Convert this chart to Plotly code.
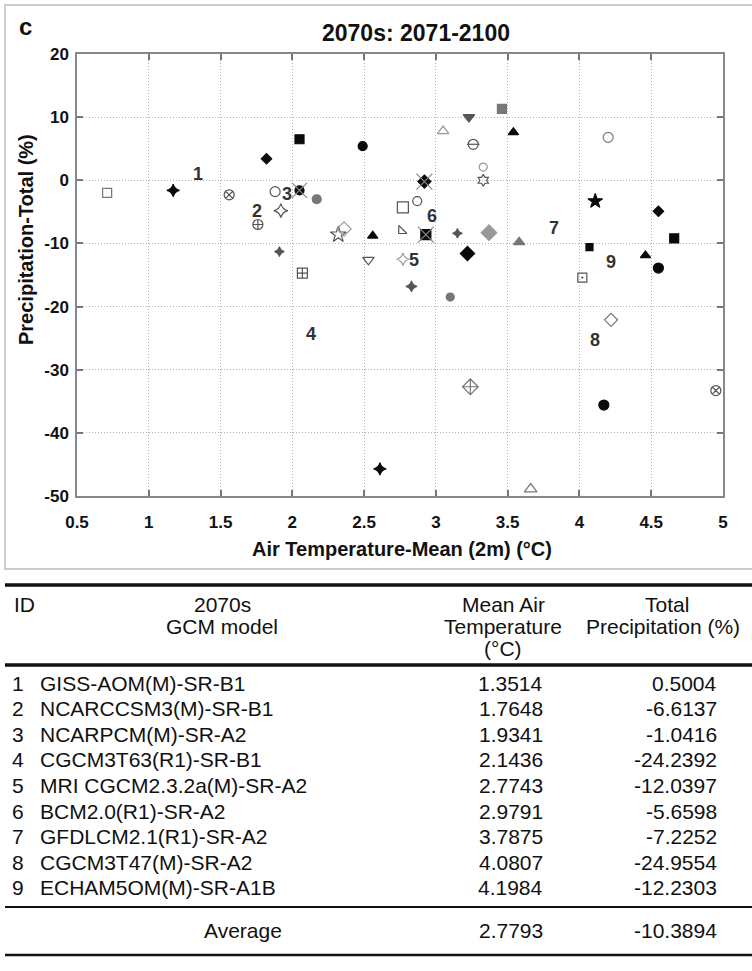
import plotly.graph_objects as go

W, H = 752, 971

# ---------------- data: GCM runs (2070s) ----------------
air_temp = [0.71, 1.17, 1.56, 1.82, 2.05, 2.49, 1.88, 2.05, 2.17, 1.92, 1.76, 2.32, 2.36, 2.56,
            1.91, 2.53, 2.07, 3.46, 3.23, 3.05, 3.54, 3.26, 3.33, 3.33, 2.92, 2.77, 2.87, 2.76,
            2.93, 3.15, 3.37, 3.58, 4.11, 4.20, 4.55, 4.66, 4.07, 4.46, 4.55, 4.02, 2.77, 3.22,
            2.83, 3.10, 4.22, 3.24, 4.17, 4.95, 2.61, 3.66]
precip_total = [-2.0, -1.6, -2.3, 3.4, 6.5, 5.4, -1.8, -1.6, -3.0, -4.8, -7.0, -8.6, -7.7, -8.8,
                -11.3, -12.6, -14.7, 11.3, 10.0, 7.8, 7.6, 5.7, 2.1, 0.0, -0.2, -4.3, -3.3, -8.0,
                -8.6, -8.4, -8.3, -9.8, -3.3, 6.8, -4.9, -9.2, -10.6, -11.9, -13.9, -15.4, -12.5,
                -11.6, -16.8, -18.5, -22.1, -32.7, -35.6, -33.3, -45.7, -48.9]

# ---------------- table data ----------------
ids = ["1", "2", "3", "4", "5", "6", "7", "8", "9"]
models = ["GISS-AOM(M)-SR-B1", "NCARCCSM3(M)-SR-B1", "NCARPCM(M)-SR-A2", "CGCM3T63(R1)-SR-B1",
          "MRI CGCM2.3.2a(M)-SR-A2", "BCM2.0(R1)-SR-A2", "GFDLCM2.1(R1)-SR-A2",
          "CGCM3T47(M)-SR-A2", "ECHAM5OM(M)-SR-A1B"]
mean_temp = [1.3514, 1.7648, 1.9341, 2.1436, 2.7743, 2.9791, 3.7875, 4.0807, 4.1984]
total_precip = [0.5004, -6.6137, -1.0416, -24.2392, -12.0397, -5.6598, -7.2252, -24.9554, -12.2303]
avg_temp = 2.7793
avg_precip = -10.3894

x_ticks = [0.5, 1, 1.5, 2, 2.5, 3, 3.5, 4, 4.5, 5]
y_ticks = [-50, -40, -30, -20, -10, 0, 10, 20]

# ---------------- styles ----------------
K, D, M, L = "#0a0a0a", "#555555", "#777777", "#999999"
symbols = ["square-open", "star-diamond", "circle-x-open", "diamond", "square", "circle",
           "circle-open", "circle", "circle", "star-diamond-open", "circle-cross-open", "star-open",
           "diamond-open", "triangle-up", "star-diamond", "triangle-down-open", "square-cross-open",
           "square", "triangle-down", "triangle-up-open", "triangle-up", "circle-open",
           "circle-open", "hexagram-open", "diamond", "square-open", "circle-open",
           "triangle-sw-open", "square", "star-diamond", "diamond", "triangle-up", "star",
           "circle-open", "diamond", "square", "square", "triangle-up", "circle", "square-open-dot",
           "star-diamond-open", "diamond", "star-diamond", "circle", "diamond-open",
           "diamond-cross-open", "circle", "circle-x-open", "star-diamond", "triangle-up-open"]
colors = [M, K, D, K, K, K, D, K, M, D, D, D, L, K, D, D, D, M, D, L, K, D, L, D, K, D, D, D, K,
          D, L, M, K, M, K, K, K, K, K, D, L, K, D, M, M, M, K, D, K, M]
sizes = [9, 9, 10, 8, 9, 9, 10, 9, 9, 10, 10, 12, 11, 9, 7, 10, 10, 9, 10, 10, 9, 10, 8, 9, 10,
         11, 9, 9, 10, 7, 12, 10, 11, 10, 8, 9, 7, 9, 10, 9, 9, 11, 8, 8, 10, 12, 10, 10, 9, 11]
overlay = {7: "x-thin-open", 21: "line-ew-open", 24: "x-thin-open", 28: "x-thin-open"}
overlay_size = {7: 15, 21: 9, 24: 16, 28: 16}
overlay_color = {7: "#888888", 21: "#555555", 24: "#888888", 28: "#888888"}
label_shift = [(-1, 3), (-2, 11), (4, -7), (-2, -1), (11, -4), (-1, 0), (5, -2), (4, -2), (3, -4)]

px = lambda x: x / W
py = lambda y: 1 - y / H

fig = go.Figure()
fig.add_trace(go.Scatter(
    x=air_temp, y=precip_total, mode="markers", hoverinfo="skip",
    marker=dict(symbol=symbols, color=colors, size=sizes, opacity=1,
                line=dict(color=colors, width=1.2)),
    showlegend=False))
ov_idx = sorted(overlay)
fig.add_trace(go.Scatter(
    x=[air_temp[i] for i in ov_idx], y=[precip_total[i] for i in ov_idx], mode="markers",
    hoverinfo="skip",
    marker=dict(symbol=[overlay[i] for i in ov_idx], size=[overlay_size[i] for i in ov_idx],
                color=[overlay_color[i] for i in ov_idx], opacity=1,
                line=dict(color=[overlay_color[i] for i in ov_idx], width=1.2)),
    showlegend=False))

annotations = []
for i, lab in enumerate(ids):
    annotations.append(dict(x=mean_temp[i], y=total_precip[i], xref="x", yref="y", text=lab,
                            showarrow=False, xshift=label_shift[i][0], yshift=label_shift[i][1],
                            xanchor="center", yanchor="middle",
                            font=dict(family="Liberation Sans", size=18, color="#333333",
                                      weight="bold")))

# chart texts
def ct(x, y, s, size, angle=0):
    annotations.append(dict(x=px(x), y=py(y), xref="paper", yref="paper", text=s,
                            showarrow=False, xanchor="center", yanchor="middle", textangle=angle,
                            font=dict(family="Liberation Sans", size=size, color="#111",
                                      weight="bold")))

ct(416, 33, "2070s: 2071-2100", 23)
ct(25, 26, "c", 24)
ct(402, 549, "Air Temperature-Mean (2m) (°C)", 20)
ct(26, 240, "Precipitation-Total (%)", 20, -90)

# table
TF = dict(family="Liberation Sans", size=21, color="#111")
def t(x, y, s, anchor):
    annotations.append(dict(x=px(x), y=py(y), xref="paper", yref="paper", text=s, showarrow=False,
                            xanchor=anchor, yanchor="middle", font=TF))

t(12, 604, "ID", "left")
t(222, 604, "2070s", "center")
t(222, 626, "GCM model", "center")
t(503, 604, "Mean Air", "center")
t(503, 626, "Temperature", "center")
t(503, 648, "(°C)", "center")
t(667, 604, "Total", "center")
t(663, 626, "Precipitation (%)", "center")
row0, pitch = 683, 25.6
for i in range(len(ids)):
    y = row0 + i * pitch
    t(10, y, ids[i], "left")
    t(38, y, models[i], "left")
    t(545, y, f"{mean_temp[i]:.4f}", "right")
    t(719, y, f"{total_precip[i]:.4f}", "right")
t(243, 930, "Average", "center")
t(545, 930, f"{avg_temp:.4f}", "right")
t(719, 930, f"{avg_precip:.4f}", "right")

shapes = [
    dict(type="rect", xref="paper", yref="paper", x0=px(5), y0=py(5), x1=px(770), y1=py(569),
         line=dict(color="#cccccc", width=2), layer="below"),
    dict(type="line", xref="paper", yref="paper", x0=px(5), x1=1, y0=py(585), y1=py(585),
         line=dict(color="#111", width=3.5)),
    dict(type="line", xref="paper", yref="paper", x0=px(5), x1=1, y0=py(665), y1=py(665),
         line=dict(color="#111", width=3.5)),
    dict(type="line", xref="paper", yref="paper", x0=px(5), x1=1, y0=py(907), y1=py(907),
         line=dict(color="#111", width=2)),
    dict(type="line", xref="paper", yref="paper", x0=px(5), x1=1, y0=py(955), y1=py(955),
         line=dict(color="#111", width=2.5)),
]

axis_common = dict(showline=True, linecolor="#888888", linewidth=1.5, mirror="ticks",
                   ticks="inside", ticklen=6, tickwidth=1.5, tickcolor="#777777",
                   showgrid=True, gridcolor="#b0b0b0", gridwidth=1, griddash="1px,2px",
                   zeroline=False, automargin=False, fixedrange=True,
                   tickfont=dict(family="Liberation Sans", size=17, color="#111", weight="bold"))

fig.update_layout(
    width=W, height=H, margin=dict(l=0, r=0, t=0, b=0, pad=0),
    paper_bgcolor="white", plot_bgcolor="white",
    xaxis=dict(domain=[px(77), px(723)], range=[0.5, 5], tickvals=x_ticks,
               ticktext=[f"{v:g}" for v in x_ticks], ticklabelstandoff=10, **axis_common),
    yaxis=dict(domain=[py(496), py(54)], range=[-50, 20], tickvals=y_ticks,
               ticktext=[f"{v:g}" for v in y_ticks], ticklabelstandoff=3, **axis_common),
    annotations=annotations, shapes=shapes,
)

fig.write_html("out.html", config={"displayModeBar": False},
               post_script="document.body.style.margin='0';document.body.style.overflow='hidden';")
